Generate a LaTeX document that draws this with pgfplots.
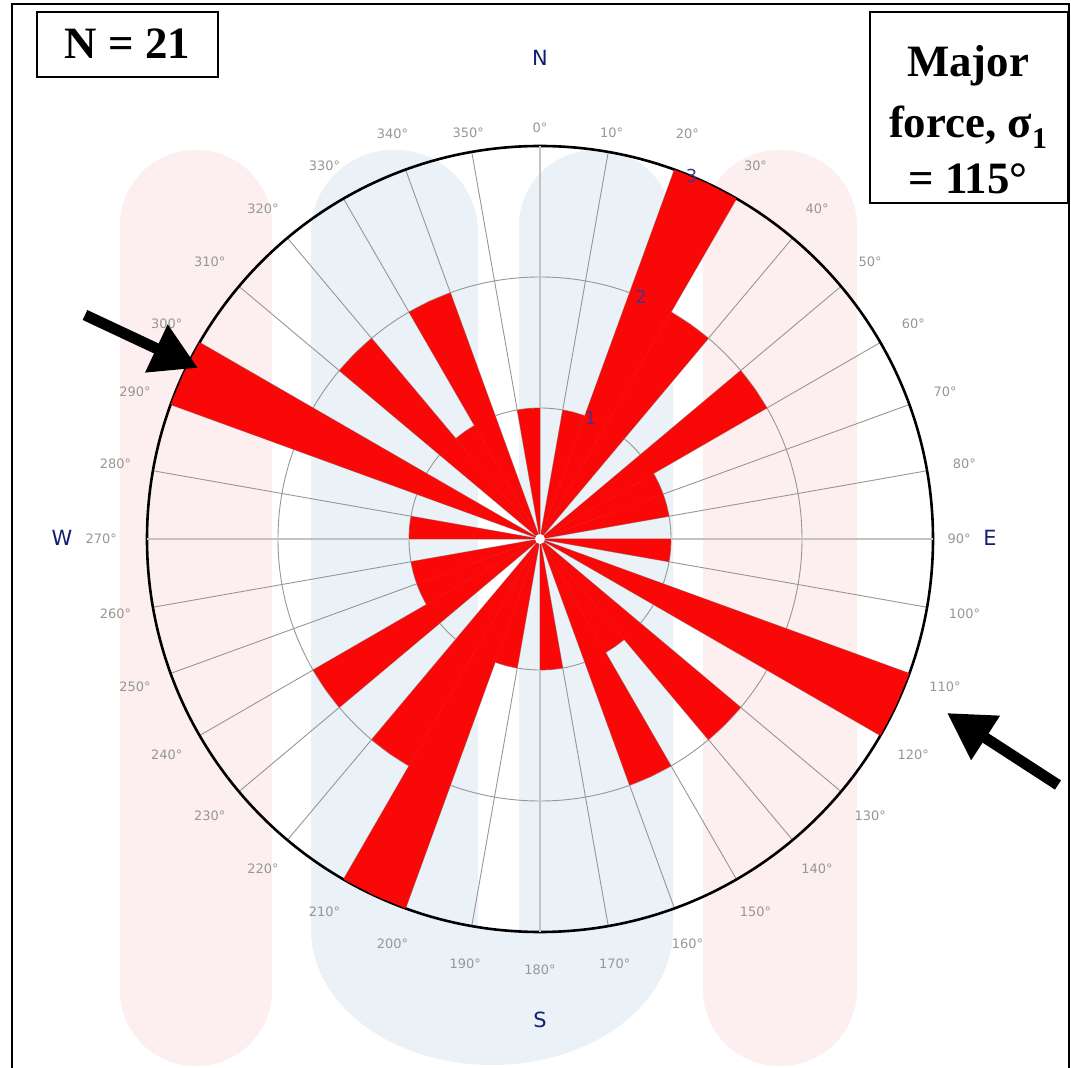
\documentclass[border=0pt]{standalone}
\usepackage{fontspec}
\setmainfont{Liberation Serif}
\newfontfamily\chartfont{DejaVu Sans}
\usepackage{pgfplots}
\pgfplotsset{compat=1.18}
\usepackage{pgfplotstable}
\usepgfplotslibrary{polar}
\usetikzlibrary{arrows.meta}

\definecolor{barred}{RGB}{250,8,8}
\definecolor{gridgray}{RGB}{150,150,150}
\definecolor{axisgray}{RGB}{195,195,195}
\definecolor{labgray}{RGB}{150,150,150}
\definecolor{navy}{RGB}{20,30,115}
\definecolor{ringlab}{RGB}{70,50,140}
\definecolor{wmpink}{RGB}{253,239,239}
\definecolor{wmblue}{RGB}{234,241,247}

% bin start (bearing, deg) and number of readings, 10 deg bins
\pgfplotstableread{
b c
0 0
10 1
20 3
30 2
40 0
50 2
60 1
70 1
80 0
90 1
100 0
110 3
120 0
130 2
140 1
150 2
160 0
170 1
180 0
190 1
200 3
210 2
220 0
230 2
240 1
250 1
260 0
270 1
280 0
290 3
300 0
310 2
320 1
330 2
340 0
350 1
}\rose

\begin{document}
\begin{tikzpicture}
\path[use as bounding box] (0,0) rectangle (1071bp,1068bp);
% faint watermark behind the rose
\begin{scope}[x=1bp,y=-1bp,shift={(0bp,1068bp)}]
  \fill[wmpink, rounded corners=75bp] (120,150) rectangle (272,1066);
  \fill[wmpink, rounded corners=76bp] (703,150) rectangle (857,1066);
  \fill[wmblue, rounded corners=82bp] (311,150) rectangle (478,1000);
  \fill[wmblue, rounded corners=76bp] (519,150) rectangle (673,1000);
  \begin{scope}
    \clip (300,930) rectangle (700,1068);
    \fill[wmblue] (492,930) ellipse[x radius=181, y radius=135];
  \end{scope}
\end{scope}

\begin{polaraxis}[
    at={(540bp,529bp)}, anchor=center,
    scale only axis, width=786bp, height=786bp,
    xmin=0, xmax=360, ymin=0, ymax=3,
    xtick={0,10,...,350}, xticklabels={},
    extra x ticks={0,90,180,270}, extra x tick labels={},
    extra x tick style={major grid style={draw=axisgray, line width=1.6bp}},
    ytick={1,2,3}, yticklabels={},
    major tick length=0pt,
    grid=major,
    major grid style={draw=gridgray, line width=0.9bp},
    x axis line style={line width=2.6bp, black},
    y axis line style={draw=none},
    clip=false,
]
\pgfplotsinvokeforeach{0,...,35}{
  \pgfplotstablegetelem{#1}{b}\of\rose
  \pgfmathsetmacro\ba{90-\pgfplotsretval}
  \pgfmathsetmacro\bm{\ba-5}
  \pgfmathsetmacro\bz{\ba-10}
  \pgfplotstablegetelem{#1}{c}\of\rose
  \let\cc\pgfplotsretval
  \edef\onebar{\noexpand\addplot[fill=barred, draw=none, forget plot]
    coordinates {(0,0) (\ba,\cc) (\bm,\cc) (\bz,\cc)};}
  \onebar
}
\fill[white] (axis cs:0,0) circle[radius=5bp];
% bearing labels round the rim
\begin{scope}[text=labgray, font=\chartfont\fontsize{13}{13}\selectfont]
\pgfplotsinvokeforeach{20,30,...,80,100,110,...,260,280,290,...,340}{
  \node at (axis cs:{90-#1},3.29) {#1°};
}
\node at (axis cs:90,3.14) {0°};
\node at (axis cs:80,3.15) {10°};
\node at (axis cs:100,3.15) {350°};
\node at (axis cs:0,3.2) {90°};
\node at (axis cs:180,3.35) {270°};
\end{scope}
\begin{scope}[text=ringlab, font=\chartfont\fontsize{18}{18}\selectfont]
\node at (axis cs:67.3,1) {1};
\node at (axis cs:67.3,2) {2};
\node at (axis cs:67.3,3) {3};
\end{scope}
\end{polaraxis}

\begin{scope}[x=1bp,y=-1bp,shift={(0bp,1068bp)}]
  \begin{scope}[text=navy, font=\chartfont\fontsize{21}{21}\selectfont]
    \node at (540,58) {N};
    \node at (990,538) {E};
    \node at (540,1020) {S};
    \node at (62,538) {W};
  \end{scope}
  % arrows pointing at the major force direction
  \draw[line width=11bp, -{Triangle[length=46bp,width=50bp]}] (85,315) -- (198,368);
  \draw[line width=11bp, -{Triangle[length=46bp,width=50bp]}] (1058,785) -- (947,713);
  % boxes
  \draw[line width=1.5bp, fill=white] (37,12) rectangle (218,77);
  \node[font=\bfseries\fontsize{45}{45}\selectfont] at (127.5,44) {N = 21};
  \draw[line width=1.5bp, fill=white] (870,12) rectangle (1068,203);
  \begin{scope}[font=\bfseries\fontsize{45}{45}\selectfont]
    \node[anchor=base] at (968,77) {Major};
    \node[anchor=base] at (968,138) {force, σ\raisebox{-11bp}{\fontsize{30}{30}\selectfont 1}};
    \node[anchor=base] at (968,194) {= 115°};
  \end{scope}
  \draw[line width=2bp] (12,1090) -- (12,4) -- (1069,4) -- (1069,1090);
\end{scope}
\end{tikzpicture}
\end{document}
